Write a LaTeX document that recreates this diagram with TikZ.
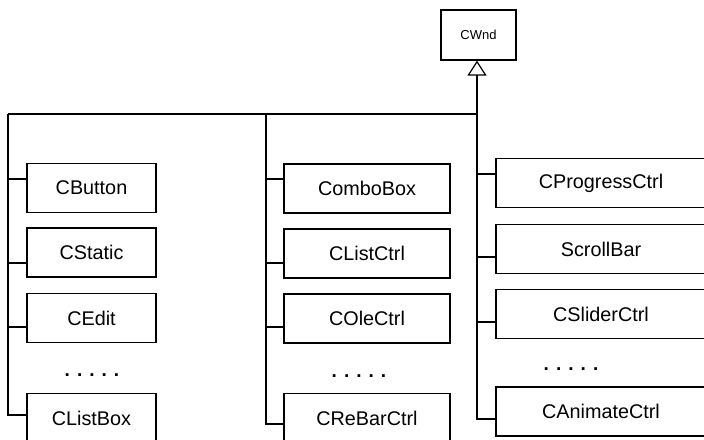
\documentclass[tikz,border=0pt]{standalone}
\usepackage{fontspec}
\setmainfont{Liberation Sans}
\usetikzlibrary{arrows.meta}
\begin{document}
\begin{tikzpicture}[x=1pt,y=-1pt,
  line width=1.2pt,
  cls/.style={draw, line width=1.3pt, minimum height=49pt, inner sep=0pt,
              font=\fontsize{19.8}{19.8}\selectfont},
  col1/.style={cls, minimum width=129pt},
  col2/.style={cls, minimum width=166pt},
  col3/.style={cls, minimum width=210pt},
  more/.style={font=\bfseries\fontsize{19}{19}\selectfont, inner sep=0pt},
  link/.style={line width=1.2pt},
  inherit/.style={line width=1.3pt, -{Triangle[open, width=19pt, length=15pt, line width=1.2pt]}}
]
\useasboundingbox (0,0) rectangle (704,439);
\clip (0,0) rectangle (704,439);

% base class
\node[draw, line width=1.2pt, minimum width=75pt, minimum height=50pt,
      font=\fontsize{13}{13}\selectfont] (cwnd) at (478.5,35) {CWnd};

% first column of controls
\node[col1] (cbutton)  at (91.5,188)  {CButton};
\node[col1] (cstatic)  at (91.5,252.5){CStatic};
\node[col1] (cedit)    at (91.5,318)  {CEdit};
\node[more] (dots1)    at (92,375)    {. . . . .};
\node[col1] (clistbox) at (91.5,418)  {CListBox};

% second column
\node[col2] (combobox)   at (367,188.5) {ComboBox};
\node[col2] (clistctrl)  at (367,253.5) {CListCtrl};
\node[col2] (colectrl)   at (367,318.5) {COleCtrl};
\node[more] (dots2)      at (359,376)   {. . . . .};
\node[col2] (crebarctrl) at (367,418)   {CReBarCtrl};

% third column (runs off the right edge)
\node[col3] (cprogress)  at (601,183)   {CProgressCtrl};
\node[col3] (scrollbar)  at (601,249)   {ScrollBar};
\node[col3] (cslider)    at (601,314)   {CSliderCtrl};
\node[more] (dots3)      at (571,369)   {. . . . .};
\node[col3] (canimate)   at (601,411.5) {CAnimateCtrl};

% trunk lines
\coordinate (t1) at (8,114);
\coordinate (t2) at (266,114);
\coordinate (t3) at (477,114);
\draw[link] (t1) -- (t3);
\draw[inherit] (t3) -- (cwnd.south -| t3);

% column 1 branches
\coordinate (a1) at (8,179);
\coordinate (a2) at (8,263);
\coordinate (a3) at (8,327);
\coordinate (a4) at (8,415);
\draw[link] (t1) -- (a4) -- (a4 -| clistbox.west);
\draw[link] (a1) -- (a1 -| cbutton.west);
\draw[link] (a2) -- (a2 -| cstatic.west);
\draw[link] (a3) -- (a3 -| cedit.west);

% column 2 branches
\coordinate (b1) at (266,179);
\coordinate (b2) at (266,263);
\coordinate (b3) at (266,327);
\coordinate (b4) at (266,424);
\draw[link] (t2) -- (b4) -- (b4 -| crebarctrl.west);
\draw[link] (b1) -- (b1 -| combobox.west);
\draw[link] (b2) -- (b2 -| clistctrl.west);
\draw[link] (b3) -- (b3 -| colectrl.west);

% column 3 branches
\coordinate (c1) at (477,174);
\coordinate (c2) at (477,257);
\coordinate (c3) at (477,322);
\coordinate (c4) at (477,419);
\draw[link] (t3) -- (c4) -- (c4 -| canimate.west);
\draw[link] (c1) -- (c1 -| cprogress.west);
\draw[link] (c2) -- (c2 -| scrollbar.west);
\draw[link] (c3) -- (c3 -| cslider.west);
\end{tikzpicture}
\end{document}
